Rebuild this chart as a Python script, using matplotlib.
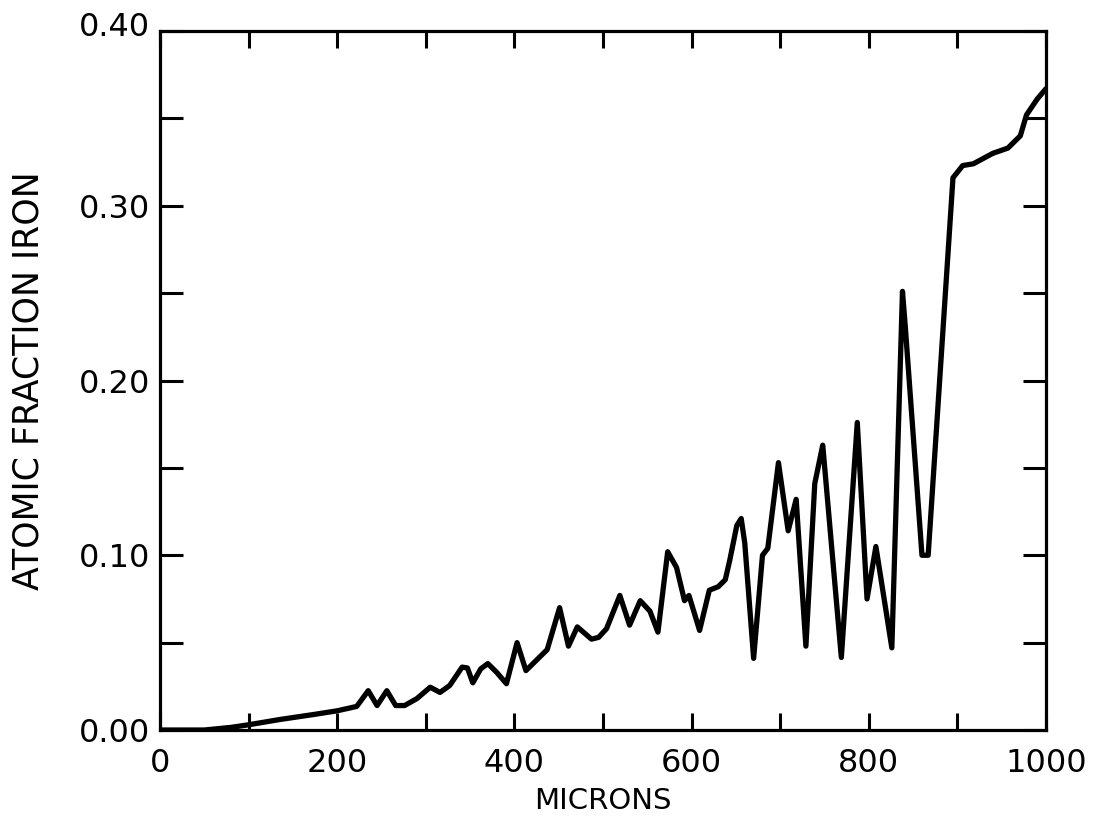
import matplotlib
matplotlib.use("Agg")
import matplotlib.pyplot as plt
import matplotlib.transforms as mtransforms
import numpy as np

microns = [0, 50, 80, 100, 135, 175, 200, 222, 235, 245, 256, 266, 276, 290,
           305, 316, 327, 341, 347, 353, 362, 370, 380, 391, 403, 413, 427,
           437, 451, 461, 471, 487, 495, 504, 519, 530, 542, 553, 562, 573,
           583, 592, 597, 609, 620, 630, 638, 643, 651, 656, 660, 670, 680,
           686, 698, 709, 718, 729, 739, 748, 769, 787, 798, 808, 826, 838,
           841, 860, 867, 895, 906, 918, 940, 957, 971, 978, 990, 1000]
fraction = [0.000, 0.000, 0.0015, 0.003, 0.006, 0.009, 0.011, 0.0135, 0.0225,
            0.014, 0.0225, 0.014, 0.014, 0.018, 0.0245, 0.0215, 0.0255, 0.036,
            0.0355, 0.027, 0.035, 0.038, 0.033, 0.0265, 0.050, 0.034, 0.041,
            0.046, 0.070, 0.048, 0.059, 0.052, 0.053, 0.058, 0.077, 0.060,
            0.074, 0.068, 0.056, 0.102, 0.093, 0.074, 0.077, 0.057, 0.080,
            0.082, 0.086, 0.097, 0.117, 0.121, 0.107, 0.041, 0.100, 0.104,
            0.153, 0.114, 0.132, 0.048, 0.141, 0.163, 0.0415, 0.176, 0.075,
            0.105, 0.047, 0.251, 0.232, 0.100, 0.100, 0.316, 0.323, 0.324,
            0.330, 0.333, 0.340, 0.352, 0.361, 0.367]

x_labels = [0, 200, 400, 600, 800, 1000]
y_labels = [0.00, 0.10, 0.20, 0.30, 0.40]

plt.rcParams["font.family"] = ["DejaVu Sans"]

fig = plt.figure(figsize=(10.93, 8.22), dpi=100)
ax = fig.add_axes([0.1464, 0.1119, 0.8106, 0.8504])

ax.plot(microns, fraction, color="black", linewidth=3.8,
        solid_joinstyle="round", solid_capstyle="round")

ax.set_xlim(0, 1000)
ax.set_ylim(0, 0.40)

for s in ax.spines.values():
    s.set_linewidth(2.3)

# every 100 microns / 0.05 marked, only every other one labelled
ax.set_xticks(np.arange(0, 1001, 100))
ax.set_xticklabels([str(v) if v in x_labels else "" for v in range(0, 1001, 100)])
yt = np.round(np.arange(0, 0.401, 0.05), 2)
ax.set_yticks(yt)
ax.set_yticklabels([f"{v:.2f}" if round(v, 2) in y_labels else "" for v in yt])

ax.tick_params(axis="x", direction="in", length=12, width=2.2, top=True,
               labelsize=23, pad=13)
ax.tick_params(axis="y", direction="in", length=16.5, width=2.2, right=True,
               labelsize=23, pad=7)

ax.set_xlabel("MICRONS", fontsize=21, labelpad=6)
ax.set_ylabel("ATOMIC FRACTION IRON", fontsize=25, labelpad=24)

# top label sits a little above the frame in the original
top_lab = ax.get_yticklabels()[-1]
top_lab.set_transform(top_lab.get_transform() +
                      mtransforms.ScaledTranslation(0, 7 / 100, fig.dpi_scale_trans))

fig.savefig("out.png", dpi=100)
